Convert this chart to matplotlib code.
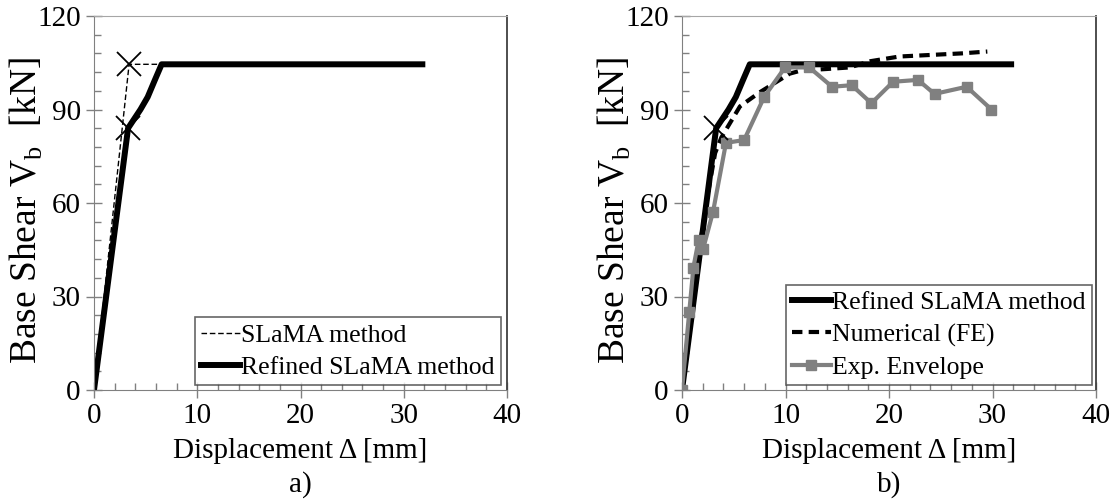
import matplotlib
matplotlib.use('Agg')
import matplotlib.pyplot as plt
from matplotlib.ticker import MultipleLocator

plt.rcParams['font.family'] = ['Liberation Serif', 'DejaVu Serif']
plt.rcParams['mathtext.fontset'] = 'custom'
plt.rcParams['mathtext.rm'] = 'Liberation Serif'

# ---- data ----
# a) SLaMA vs refined SLaMA
slama_d = [0.0, 3.4, 31.8]
slama_v = [0.0, 104.5, 104.5]
slama_yield = (3.4, 104.5)

refined_d = [0.0, 3.3, 4.5, 5.2, 5.9, 6.55, 31.8]
refined_v = [0.0, 84.0, 90.0, 94.0, 99.5, 104.5, 104.5]
refined_yield = (3.3, 84.0)

# b) numerical FE model and experimental envelope
fe_d = [0.0, 1.0, 2.4, 3.2, 3.8, 5.6, 7.5, 9.2, 10.4, 11.5, 14.0, 16.2, 18.2, 21.0, 24.0, 27.0, 29.5]
fe_v = [0.0, 30.0, 61.0, 76.0, 81.0, 91.0, 95.5, 99.0, 101.5, 102.5, 103.0, 103.5, 105.5, 107.0, 107.5, 108.0, 108.6]

exp_d = [0.0, 0.7, 1.1, 1.6, 2.05, 3.0, 4.25, 6.0, 7.95, 9.95, 12.3, 14.5, 16.4, 18.3, 20.4, 22.8, 24.4, 27.5, 29.9]
exp_v = [0.0, 25.0, 39.3, 48.0, 45.4, 57.2, 79.3, 80.2, 94.1, 103.5, 103.5, 97.3, 97.8, 92.0, 98.9, 99.5, 95.0, 97.3, 90.0]

gray = '#808080'
tick_size = 21
xlabel_size = 21
ylabel_size = 27
legend_size = 18.5

fig = plt.figure(figsize=(11.13, 4.99), dpi=100)
ax_a = fig.add_axes([94 / 1113, 109 / 499, 413 / 1113, 374 / 499])
ax_b = fig.add_axes([682 / 1113, 109 / 499, 414 / 1113, 374 / 499])


def style_axis(ax):
    ax.set_xlim(0, 40)
    ax.set_ylim(0, 120)
    ax.xaxis.set_major_locator(MultipleLocator(10))
    ax.xaxis.set_minor_locator(MultipleLocator(2))
    ax.yaxis.set_major_locator(MultipleLocator(30))
    ax.yaxis.set_minor_locator(MultipleLocator(6))
    ax.tick_params(which='major', direction='inout', length=11, width=1, color=gray,
                   labelsize=tick_size, pad=4)
    ax.tick_params(which='minor', direction='in', length=5, width=1, color=gray)
    for side in ['left', 'bottom']:
        ax.spines[side].set_color(gray)
    ax.spines['top'].set_color('#a6a6a6')
    ax.spines['right'].set_color('#404040')
    ax.spines['right'].set_linewidth(1.3)
    ax.set_xlabel('Displacement Δ [mm]', fontsize=xlabel_size, va='center')
    ax.xaxis.set_label_coords(0.5, -0.163)
    ax.set_ylabel(r'Base Shear V$_\mathregular{b}$  [kN]', fontsize=ylabel_size, va='center')
    ax.yaxis.set_label_coords(-0.163, 0.48)


def add_legend(ax, right):
    leg = ax.legend(loc='lower right', bbox_to_anchor=(right, 0.013), fontsize=legend_size, frameon=True,
                    fancybox=False, edgecolor='#404040', handlelength=1.5, handletextpad=0.05,
                    borderpad=0.25, labelspacing=0.35, borderaxespad=0)
    leg.get_frame().set_linewidth(1.2)


# ---- a) ----
ax = ax_a
ax.plot(slama_d, slama_v, color='black', lw=1.0, ls=(0, (4, 2)), label='SLaMA method')
ax.plot(refined_d, refined_v, color='black', lw=4.3, solid_joinstyle='round', label='Refined SLaMA method')
ax.plot(*slama_yield, marker='x', ms=17, mew=1.3, color='black', ls='none')
ax.plot(*refined_yield, marker='x', ms=17, mew=1.3, color='black', ls='none')
style_axis(ax)
add_legend(ax, 0.985)
ax.text(0.5, -0.254, 'a)', transform=ax.transAxes, ha='center', va='center', fontsize=xlabel_size)

# ---- b) ----
ax = ax_b
ax.plot(refined_d, refined_v, color='black', lw=4.3, solid_joinstyle='round', label='Refined SLaMA method')
ax.plot(fe_d, fe_v, color='black', lw=3.0, ls=(0, (2.5, 1.5)), label='Numerical (FE)')
ax.plot(exp_d, exp_v, color=gray, lw=3.0, marker='s', ms=7.5, label='Exp. Envelope')
ax.plot(*refined_yield, marker='x', ms=17, mew=1.3, color='black', ls='none')
style_axis(ax)
add_legend(ax, 0.99)
ax.text(0.5, -0.254, 'b)', transform=ax.transAxes, ha='center', va='center', fontsize=xlabel_size)

fig.savefig('out.png', dpi=100)
